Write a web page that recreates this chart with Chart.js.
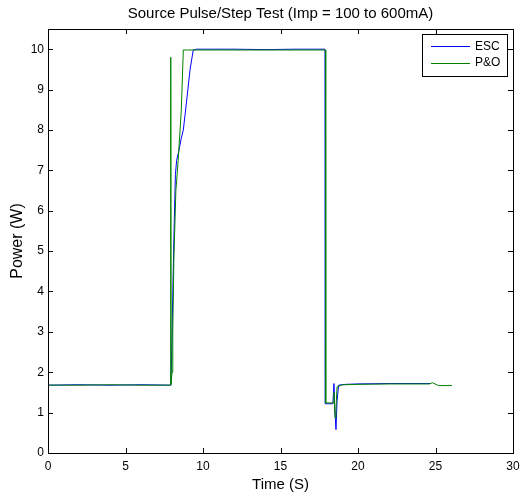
<!DOCTYPE html>
<html>
<head>
<meta charset="utf-8">
<script src="https://cdn.jsdelivr.net/npm/chart.js@4/dist/chart.umd.min.js"></script>
<style>
html,body{margin:0;padding:0;background:#fff;}
#wrap{width:520px;height:496px;}
</style>
</head>
<body>
<div id="wrap"><canvas id="c" width="520" height="496"></canvas></div>
<script>
const chartTitle = "Source Pulse/Step Test (Imp = 100 to 600mA)";
const xLabel = "Time (S)";
const yLabel = "Power (W)";
const xTicks = [0, 5, 10, 15, 20, 25, 30];
const yTicks = [0, 1, 2, 3, 4, 5, 6, 7, 8, 9, 10];

const escLabel = "ESC";
const escTime  = [0, 2, 4, 6, 7.9, 7.93, 7.98, 8.02, 8.09, 8.15, 8.22, 8.3, 8.45, 8.6, 8.73, 8.95, 9.16, 9.37, 9.6, 10, 12, 14, 16, 17.87, 17.88, 18.38, 18.45, 18.5, 18.58, 18.65, 18.75, 19.2, 20, 22, 24.65];
const escPower = [1.68, 1.69, 1.68, 1.69, 1.68, 1.75, 2.5, 3.3, 4.7, 5.8, 6.9, 7.25, 7.5, 7.8, 8.0, 8.74, 9.48, 9.98, 10.0, 10.0, 10.0, 9.99, 10.0, 10.0, 1.22, 1.22, 1.72, 1.1, 0.58, 1.3, 1.68, 1.7, 1.71, 1.72, 1.72];

const poLabel = "P&O";
const poTime  = [0, 2, 4, 6, 7.9, 7.92, 7.94, 8.0, 8.05, 8.12, 8.25, 8.4, 8.6, 8.73, 9.0, 11, 13, 15, 17.9, 17.92, 18.39, 18.45, 18.52, 18.58, 18.65, 19.0, 20, 22, 24.6, 24.8, 25.2, 26.06];
const poPower = [1.68, 1.68, 1.69, 1.68, 1.68, 9.8, 1.7, 2.0, 3.0, 4.8, 6.5, 7.25, 8.5, 9.98, 9.98, 9.98, 9.98, 9.98, 9.98, 1.24, 1.24, 1.5, 0.87, 1.1, 1.64, 1.69, 1.7, 1.71, 1.71, 1.74, 1.67, 1.67];

function toPts(xs, ys){ return xs.map((x,i)=>({x:x, y:ys[i]})); }

const FONT = "'Liberation Sans', Arial, sans-serif";

const decor = {
  id: 'decor',
  afterDraw(chart){
    const ctx = chart.ctx, a = chart.chartArea;
    const xs = chart.scales.x, ys = chart.scales.y;
    ctx.save();
    ctx.strokeStyle = '#000';
    ctx.lineWidth = 1;
    ctx.strokeRect(Math.round(a.left)+0.5, Math.round(a.top)+0.5, Math.round(a.right-a.left), Math.round(a.bottom-a.top));
    const tl = 5;
    ctx.beginPath();
    xTicks.forEach(v=>{
      const px = Math.round(xs.getPixelForValue(v))+0.5;
      ctx.moveTo(px, a.bottom); ctx.lineTo(px, a.bottom - tl);
      ctx.moveTo(px, a.top); ctx.lineTo(px, a.top + tl);
    });
    yTicks.forEach(v=>{
      const py = Math.round(ys.getPixelForValue(v))+0.5;
      ctx.moveTo(a.left, py); ctx.lineTo(a.left + tl, py);
      ctx.moveTo(a.right, py); ctx.lineTo(a.right - tl, py);
    });
    ctx.stroke();
    ctx.fillStyle = '#000';
    ctx.font = '15px ' + FONT;
    ctx.textAlign = 'center';
    ctx.textBaseline = 'middle';
    ctx.fillText(chartTitle, (a.left + a.right)/2, 14);
    const lx = 422, ly = 34, lw = 85, lh = 42;
    ctx.fillStyle = '#fff';
    ctx.fillRect(lx, ly, lw, lh);
    ctx.strokeRect(lx+0.5, ly+0.5, lw, lh);
    ctx.font = '12px ' + FONT;
    ctx.textAlign = 'left';
    const ds = chart.data.datasets;
    [0,1].forEach(i=>{
      const yy = ly + 12 + i*16.5;
      ctx.strokeStyle = ds[i].borderColor;
      ctx.beginPath();
      ctx.moveTo(lx+9, Math.round(yy)+0.5); ctx.lineTo(lx+48, Math.round(yy)+0.5);
      ctx.stroke();
      ctx.fillStyle = '#000';
      ctx.fillText(ds[i].label, lx+53, yy+0.5);
    });
    ctx.restore();
  }
};

new Chart(document.getElementById('c'), {
  type: 'line',
  data: {
    datasets: [
      { label: escLabel, data: toPts(escTime, escPower), borderColor: '#0000ff', borderWidth: 1, pointRadius: 0, tension: 0, fill: false, order: 1 },
      { label: poLabel, data: toPts(poTime, poPower), borderColor: '#008000', borderWidth: 1, pointRadius: 0, tension: 0, fill: false, order: 0 }
    ]
  },
  options: {
    responsive: false,
    animation: false,
    events: [],
    layout: { padding: { left: 0, right: 7, top: 29, bottom: 0 } },
    plugins: { legend: { display: false }, title: { display: false }, tooltip: { enabled: false } },
    scales: {
      x: {
        type: 'linear', min: 0, max: 30,
        afterBuildTicks(axis){ axis.ticks = xTicks.map(v=>({value:v})); },
        afterFit(axis){ axis.height = 43; axis.paddingLeft = 0; axis.paddingRight = 0; },
        grid: { display: false, drawTicks: false },
        border: { display: false },
        ticks: { color: '#000', font: { family: FONT, size: 12 }, padding: 6, maxRotation: 0, autoSkip: false },
        title: { display: true, text: xLabel, color: '#000', font: { family: FONT, size: 15 }, padding: { top: 2, bottom: 2 } }
      },
      y: {
        type: 'linear', min: 0, max: 10.5,
        afterBuildTicks(axis){ axis.ticks = yTicks.map(v=>({value:v})); },
        afterFit(axis){ axis.width = 48; axis.paddingTop = 0; axis.paddingBottom = 0; },
        grid: { display: false, drawTicks: false },
        border: { display: false },
        ticks: { color: '#000', font: { family: FONT, size: 12 }, padding: 4, autoSkip: false },
        title: { display: true, text: yLabel, color: '#000', font: { family: FONT, size: 16 }, padding: { top: 8, bottom: 4 } }
      }
    }
  },
  plugins: [decor]
});
</script>
</body>
</html>
